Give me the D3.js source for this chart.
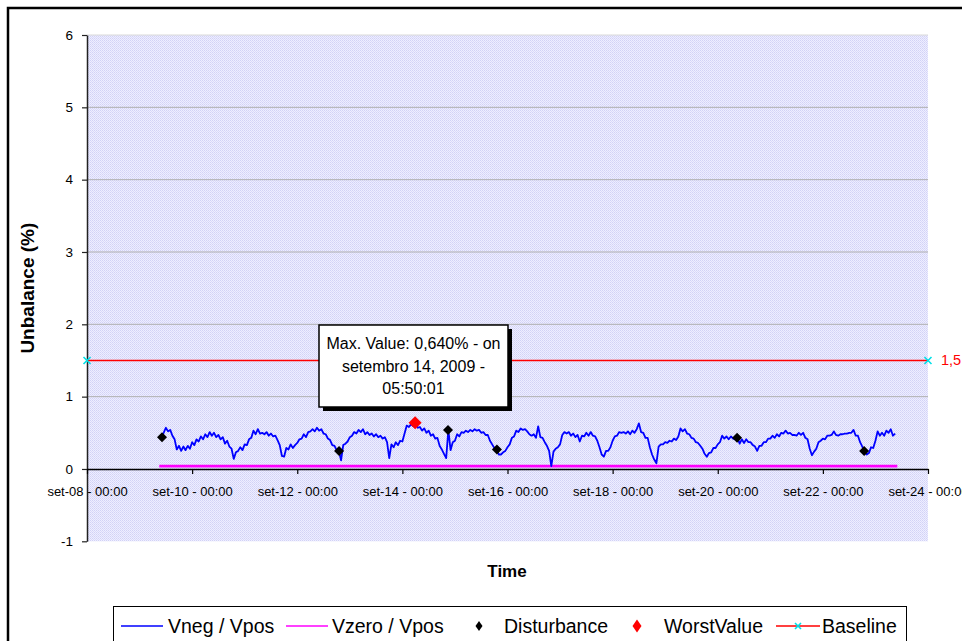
<!DOCTYPE html>
<html><head><meta charset="utf-8">
<script src="https://cdn.jsdelivr.net/npm/d3@7"></script>
<style>body{margin:0;background:#fff} svg{display:block;font-family:"Liberation Sans",Arial,sans-serif}</style>
</head><body><svg id="c" width="962" height="641"></svg>
<script>
// ---- data ----
const vnegStart = "2009-09-09T10:00:00"; // hourly samples
const vnegValues = [
0.44,0.50,0.57,0.52,0.54,0.46,0.41,0.27,0.32,0.25,0.31,0.26,
0.32,0.28,0.37,0.33,0.41,0.38,0.45,0.41,0.48,0.44,0.51,0.46,
0.50,0.44,0.47,0.41,0.44,0.35,0.39,0.31,0.28,0.14,0.23,0.25,
0.30,0.26,0.34,0.33,0.41,0.43,0.53,0.48,0.55,0.49,0.50,0.48,
0.51,0.46,0.49,0.45,0.46,0.40,0.33,0.18,0.17,0.29,0.27,0.34,
0.29,0.33,0.36,0.41,0.42,0.48,0.44,0.51,0.52,0.55,0.52,0.57,
0.53,0.55,0.49,0.48,0.42,0.40,0.33,0.32,0.26,0.25,0.12,0.33,
0.35,0.38,0.44,0.46,0.51,0.49,0.54,0.51,0.55,0.48,0.51,0.47,
0.49,0.45,0.48,0.44,0.46,0.42,0.44,0.37,0.15,0.34,0.30,0.37,
0.33,0.39,0.38,0.49,0.60,0.58,0.62,0.59,0.64,0.57,0.58,0.53,
0.56,0.50,0.53,0.46,0.48,0.42,0.43,0.32,0.27,0.21,0.15,0.54,
0.26,0.37,0.39,0.48,0.45,0.51,0.50,0.53,0.51,0.54,0.52,0.55,
0.53,0.54,0.50,0.51,0.47,0.47,0.39,0.34,0.29,0.28,0.20,0.20,
0.23,0.25,0.30,0.34,0.43,0.45,0.53,0.51,0.56,0.54,0.55,0.52,
0.48,0.46,0.48,0.43,0.59,0.44,0.43,0.37,0.32,0.25,0.04,0.24,
0.28,0.30,0.34,0.47,0.51,0.49,0.51,0.46,0.49,0.44,0.47,0.38,
0.46,0.45,0.50,0.46,0.51,0.46,0.45,0.39,0.30,0.20,0.17,0.25,
0.25,0.30,0.39,0.45,0.46,0.51,0.50,0.51,0.49,0.52,0.48,0.53,
0.50,0.55,0.63,0.51,0.50,0.43,0.43,0.30,0.20,0.13,0.08,0.31,
0.34,0.34,0.37,0.36,0.39,0.38,0.42,0.40,0.45,0.56,0.52,0.55,
0.49,0.48,0.43,0.42,0.37,0.36,0.32,0.28,0.21,0.17,0.22,0.23,
0.29,0.29,0.34,0.37,0.46,0.42,0.45,0.41,0.45,0.42,0.41,0.43,
0.35,0.41,0.36,0.41,0.37,0.37,0.33,0.31,0.25,0.32,0.32,0.37,
0.37,0.42,0.42,0.46,0.43,0.48,0.45,0.50,0.49,0.53,0.49,0.50,
0.47,0.47,0.46,0.50,0.47,0.50,0.43,0.41,0.28,0.19,0.24,0.28,
0.37,0.39,0.42,0.41,0.46,0.46,0.47,0.52,0.47,0.46,0.48,0.48,
0.49,0.49,0.50,0.50,0.54,0.46,0.46,0.37,0.31,0.24,0.20,0.22,
0.30,0.29,0.39,0.52,0.46,0.50,0.46,0.53,0.50,0.55,0.46,0.49
];
const vzeroTimes = ["2009-09-09T09:00:00","2009-09-23T10:00:00"];
const vzeroValues = [0.04,0.04];
const disturbanceTimes = ["2009-09-09T10:15:00","2009-09-12T19:05:00","2009-09-14T20:50:00","2009-09-15T19:10:00","2009-09-20T08:50:00","2009-09-22T18:50:00"];
const disturbanceValues = [0.44,0.25,0.54,0.27,0.43,0.25];
const worstTime = "2009-09-14T05:50:01";
const worstValue = 0.640;
const baselineTimes = ["2009-09-08T00:00:00","2009-09-24T00:00:00"];
const baselineValues = [1.5,1.5];
const baselineLabel = "1,5";
const xDomain = ["2009-09-08T00:00:00","2009-09-24T00:00:00"];
const xTickDates = ["2009-09-08T00:00:00","2009-09-10T00:00:00","2009-09-12T00:00:00","2009-09-14T00:00:00","2009-09-16T00:00:00","2009-09-18T00:00:00","2009-09-20T00:00:00","2009-09-22T00:00:00","2009-09-24T00:00:00"];
const xTickLabels = ["set-08 - 00:00","set-10 - 00:00","set-12 - 00:00","set-14 - 00:00","set-16 - 00:00","set-18 - 00:00","set-20 - 00:00","set-22 - 00:00","set-24 - 00:00"];
const yTicks = [-1,0,1,2,3,4,5,6];
const legendLabels = ["Vneg / Vpos","Vzero / Vpos","Disturbance","WorstValue","Baseline"];
const calloutLines = ["Max. Value: 0,640% - on","setembro 14, 2009 -","05:50:01"];
const xTitle = "Time";
const yTitle = "Unbalance (%)";

// ---- drawing ----
const parse = d3.timeParse("%Y-%m-%dT%H:%M:%S");
const svg = d3.select("#c");
const L = 87, R = 928, T = 35, B = 541.3;
const x = d3.scaleTime().domain(xDomain.map(parse)).range([L, R]);
const y = d3.scaleLinear().domain([-1, 6]).range([B, T]);

// pattern for plot area
const defs = svg.append("defs");
const pat = defs.append("pattern").attr("id","dots").attr("width",2).attr("height",2).attr("patternUnits","userSpaceOnUse");
pat.append("rect").attr("width",2).attr("height",2).attr("fill","#eeeeff");
pat.append("rect").attr("width",1).attr("height",1).attr("fill","#d2d2f6");
pat.append("rect").attr("x",1).attr("y",1).attr("width",1).attr("height",1).attr("fill","#dadafa");

// outer frame
svg.append("rect").attr("x",8).attr("y",8).attr("width",1000).attr("height",700)
  .attr("fill","#fff").attr("stroke","#000").attr("stroke-width",2.5);

// plot bg
svg.append("rect").attr("x",L).attr("y",T).attr("width",R-L).attr("height",B-T).attr("fill","url(#dots)");

// gridlines
svg.append("g").selectAll("line").data(yTicks.filter(d=>d>0)).join("line")
  .attr("x1",L).attr("x2",R).attr("y1",d=>y(d)).attr("y2",d=>y(d))
  .attr("stroke",d=>d===6?"#d8d8d8":"#b0b0b0").attr("stroke-width",1);

// y axis
const ya = svg.append("g").attr("transform",`translate(${L},0)`)
  .call(d3.axisLeft(y).tickValues(yTicks).tickSize(5).tickSizeOuter(0).tickPadding(9).tickFormat(d=>String(d)));
ya.select(".domain").attr("stroke","#222").attr("stroke-width",1.5);
ya.selectAll(".tick line").attr("stroke","#222").attr("stroke-width",1.2);
ya.selectAll("text").attr("font-size",13.5).attr("font-family","Liberation Sans, Arial, sans-serif").attr("fill","#000");

// x axis at zero
const xa = svg.append("g").attr("transform",`translate(0,${y(0)})`)
  .call(d3.axisBottom(x).tickValues(xTickDates.map(parse)).tickSize(5).tickSizeOuter(0).tickFormat((d,i)=>xTickLabels[i]));
xa.select(".domain").attr("stroke","#000").attr("stroke-width",1.5);
xa.selectAll(".tick line").attr("stroke","#000").attr("stroke-width",1.2);
xa.selectAll("text").attr("font-size",13).attr("font-family","Liberation Sans, Arial, sans-serif").attr("fill","#000")
  .attr("y",27).attr("dy",0);

// baseline
const lineGen = d3.line().x(d=>x(d.t)).y(d=>y(d.v));
const baseData = baselineTimes.map((t,i)=>({t:parse(t),v:baselineValues[i]}));
svg.append("path").datum(baseData).attr("d",lineGen).attr("fill","none").attr("stroke","#ff0000").attr("stroke-width",1.5);
const cross = (g, cx, cy, s, col) => {
  g.append("path").attr("d",`M${cx-s},${cy-s}L${cx+s},${cy+s}M${cx-s},${cy+s}L${cx+s},${cy-s}`)
   .attr("stroke",col).attr("stroke-width",1.6).attr("fill","none");
};
baseData.forEach(d=>cross(svg, x(d.t), y(d.v), 3.5, "#00e0e8"));
svg.append("text").attr("x",x(baseData[1].t)+13).attr("y",y(1.5)+5).attr("font-size",14.5)
  .attr("fill","#ff0000").text(baselineLabel);

// vzero
const vz = vzeroTimes.map((t,i)=>({t:parse(t),v:vzeroValues[i]}));
svg.append("path").datum(vz).attr("d",lineGen).attr("fill","none").attr("stroke","#ff00ff").attr("stroke-width",2.6);

// vneg
const st = parse(vnegStart);
const vn = vnegValues.map((v,i)=>({t:d3.timeHour.offset(st,i),v}));
svg.append("path").datum(vn).attr("d",lineGen).attr("fill","none").attr("stroke","#0000ff")
  .attr("stroke-width",1.8).attr("stroke-linejoin","round");

// diamonds
const diamond = (cx,cy,w,h)=>`M${cx},${cy-h}L${cx+w},${cy}L${cx},${cy+h}L${cx-w},${cy}Z`;
svg.append("g").selectAll("path").data(disturbanceTimes.map((t,i)=>({t:parse(t),v:disturbanceValues[i]}))).join("path")
  .attr("d",d=>diamond(x(d.t),y(d.v),5,5)).attr("fill","#000");
svg.append("path").attr("d",diamond(x(parse(worstTime)),y(worstValue),6.5,6.5)).attr("fill","#ff0000");

// callout
const cb = {x:319,y:325,w:189,h:82};
svg.append("rect").attr("x",cb.x+4).attr("y",cb.y+4).attr("width",cb.w).attr("height",cb.h).attr("fill","#000");
svg.append("rect").attr("x",cb.x).attr("y",cb.y).attr("width",cb.w).attr("height",cb.h).attr("fill","#fff")
  .attr("stroke","#000").attr("stroke-width",1.5);
svg.append("g").selectAll("text").data(calloutLines).join("text")
  .attr("x",cb.x+cb.w/2).attr("y",(d,i)=>349+i*22.5).attr("text-anchor","middle").attr("font-size",16).attr("fill","#000").text(d=>d);

// axis titles
svg.append("text").attr("x",507).attr("y",577).attr("text-anchor","middle").attr("font-size",17).attr("font-weight","bold").text(xTitle);
svg.append("text").attr("transform",`translate(34,${(T+B)/2}) rotate(-90)`).attr("text-anchor","middle")
  .attr("font-size",19).attr("font-weight","bold").text(yTitle);

// legend
const lg = svg.append("g");
lg.append("rect").attr("x",113.5).attr("y",606.5).attr("width",793).attr("height",60).attr("fill","#fff").attr("stroke","#000").attr("stroke-width",1);
const ly = 626;
const items = [
  {type:"line",col:"#0000ff",x0:121,x1:163,tx:168},
  {type:"line",col:"#ff00ff",x0:286,x1:328,tx:332},
  {type:"dia",col:"#000",cx:479,w:3.5,h:5,tx:504},
  {type:"dia",col:"#ff0000",cx:637,w:4.5,h:6.5,tx:664},
  {type:"base",col:"#ff0000",x0:776,x1:820,tx:822}
];
items.forEach((it,i)=>{
  if(it.type==="line"){
    lg.append("line").attr("x1",it.x0).attr("x2",it.x1).attr("y1",ly).attr("y2",ly).attr("stroke",it.col).attr("stroke-width",1.5);
  } else if(it.type==="dia"){
    lg.append("path").attr("d",diamond(it.cx,ly,it.w,it.h)).attr("fill",it.col);
  } else {
    lg.append("line").attr("x1",it.x0).attr("x2",it.x1).attr("y1",ly).attr("y2",ly).attr("stroke",it.col).attr("stroke-width",1.5);
    cross(lg,(it.x0+it.x1)/2,ly,3,"#00e0e8");
  }
  lg.append("text").attr("x",it.tx).attr("y",ly+7).attr("font-size",19.5).attr("fill","#000").text(legendLabels[i]);
});
</script></body></html>
